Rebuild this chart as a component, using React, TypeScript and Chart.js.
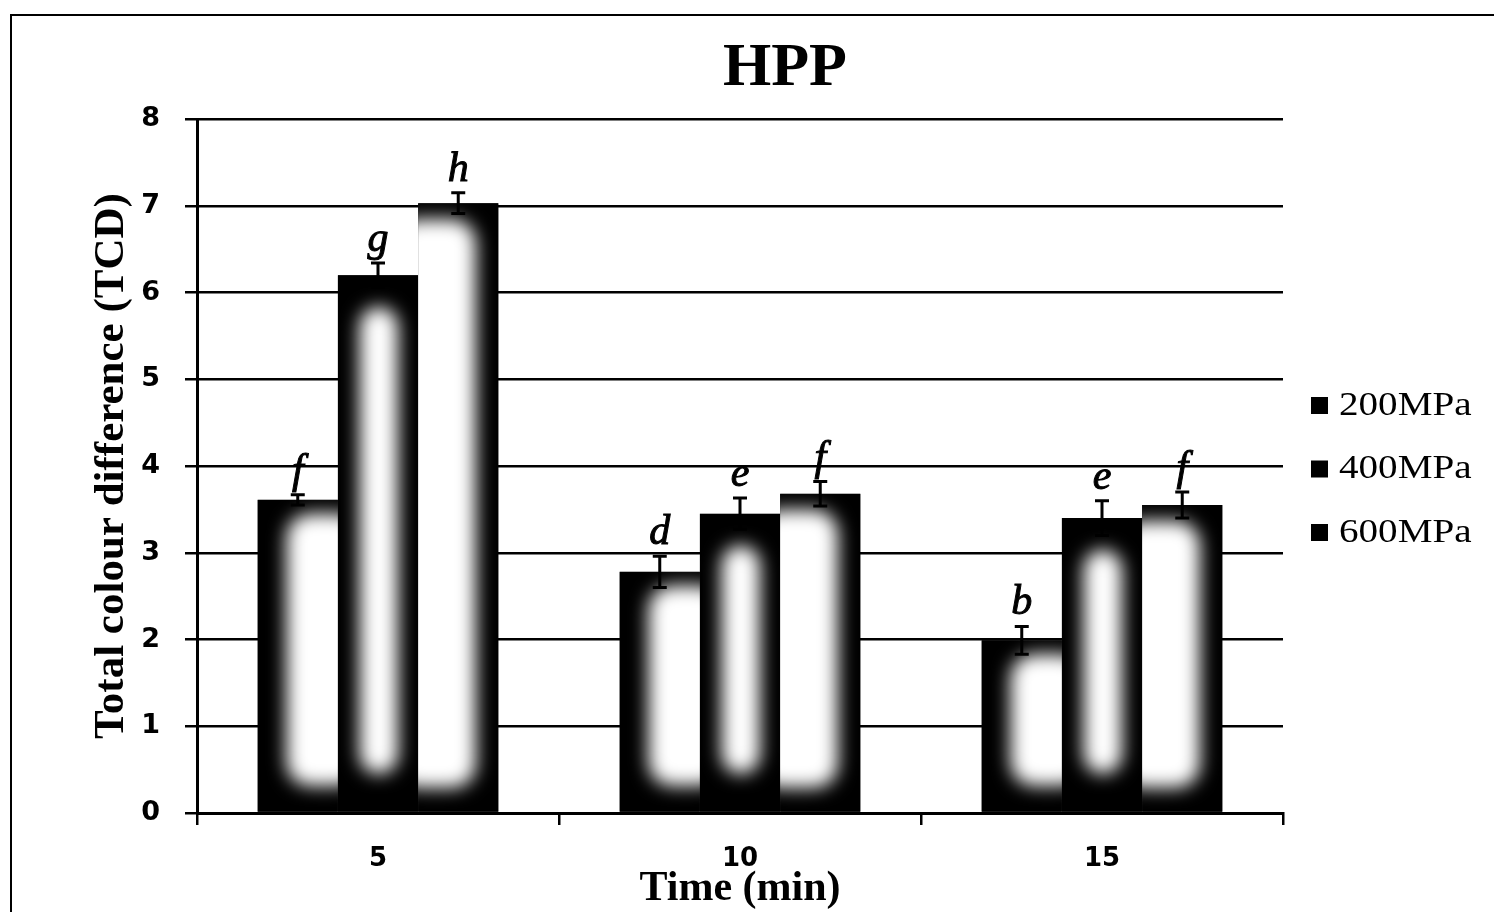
import React, { useEffect, useRef } from 'react';
import { Chart, registerables } from 'chart.js';

Chart.register(...registerables);

// ---------- data ----------
const categories = ['5', '10', '15'];
const seriesLabels = ['200MPa', '400MPa', '600MPa'];
const tcd200 = [3.61, 2.78, 1.99];
const tcd400 = [6.2, 3.45, 3.4];
const tcd600 = [7.03, 3.68, 3.55];
const err200 = [0.06, 0.18, 0.16];
const err400 = [0.14, 0.18, 0.2];
const err600 = [0.12, 0.14, 0.15];
const sig200 = ['f', 'd', 'b'];
const sig400 = ['g', 'e', 'e'];
const sig600 = ['h', 'f', 'f'];
const chartTitle = 'HPP';
const yTitle = 'Total colour difference (TCD)';
const xTitle = 'Time (min)';

const seriesValues = [tcd200, tcd400, tcd600];
const seriesErrors = [err200, err400, err600];
const seriesLetters = [sig200, sig400, sig600];

// styling: light core of each bar (fractions of width inset left/right, px inset top/bottom)
const shades = [
  { l: 0.36, r: -0.3, t: 14, b: 26 },
  { l: 0.27, r: 0.25, t: 32, b: 38 },
  { l: -0.3, r: 0.28, t: 16, b: 24 },
];

const decorPlugin = {
  id: 'decor',
  afterDatasetsDraw(chart: any) {
    const ctx: CanvasRenderingContext2D = chart.ctx;
    const yScale = chart.scales.y;
    chart.data.datasets.forEach((ds: any, di: number) => {
      const meta = chart.getDatasetMeta(di);
      const sh = shades[di];
      meta.data.forEach((el: any) => {
        const { x, y, width, base } = el.getProps(['x', 'y', 'width', 'base'], true);
        const left = x - width / 2;
        const h = base - y;
        ctx.save();
        ctx.beginPath();
        ctx.rect(left, y, width, h);
        ctx.clip();
        ctx.fillStyle = '#000';
        ctx.fillRect(left, y, width, h);
        ctx.filter = 'blur(9px)';
        ctx.fillStyle = '#fff';
        const cl = left + sh.l * width;
        const cr = left + width - sh.r * width;
        const ct = y + Math.min(sh.t, h * 0.2);
        const cb = base - Math.min(sh.b, h * 0.2);
        ctx.beginPath();
        const rr = Math.min((cr - cl) / 2, 24);
        (ctx as any).roundRect(cl, ct, cr - cl, Math.max(cb - ct, 1), rr);
        ctx.fill();
        ctx.restore();
      });
    });
    // error bars and letters
    chart.data.datasets.forEach((ds: any, di: number) => {
      const meta = chart.getDatasetMeta(di);
      meta.data.forEach((el: any, i: number) => {
        const v = seriesValues[di][i];
        const e = seriesErrors[di][i];
        const { x } = el.getProps(['x'], true);
        const yTop = yScale.getPixelForValue(v + e);
        const yBot = yScale.getPixelForValue(v - e);
        ctx.save();
        ctx.strokeStyle = '#000';
        ctx.lineWidth = 3;
        ctx.beginPath();
        ctx.moveTo(x, yTop);
        ctx.lineTo(x, yBot);
        ctx.moveTo(x - 7, yTop);
        ctx.lineTo(x + 7, yTop);
        ctx.moveTo(x - 7, yBot);
        ctx.lineTo(x + 7, yBot);
        ctx.stroke();
        ctx.fillStyle = '#000';
        ctx.font = 'italic 42px "Liberation Serif"';
        ctx.textAlign = 'center';
        ctx.textBaseline = 'alphabetic';
        ctx.lineWidth = 1;
        ctx.fillText(seriesLetters[di][i], x, yTop - 12);
        ctx.strokeText(seriesLetters[di][i], x, yTop - 12);
        ctx.restore();
      });
    });
  },
  afterDraw(chart: any) {
    const ctx: CanvasRenderingContext2D = chart.ctx;
    ctx.save();
    ctx.fillStyle = '#000';
    ctx.font = 'bold 62px "Liberation Serif"';
    ctx.textAlign = 'center';
    ctx.textBaseline = 'alphabetic';
    ctx.fillText(chartTitle, 785, 85);
    // legend
    chart.data.datasets.forEach((ds: any, di: number) => {
      const yc = 405 + di * 63.5;
      ctx.fillStyle = ds.backgroundColor;
      ctx.fillRect(1311, yc - 8, 17, 17);
      ctx.save();
      ctx.translate(1339, yc);
      ctx.scale(1.15, 1);
      ctx.fillStyle = '#000';
      ctx.font = '34px "Liberation Serif"';
      ctx.textAlign = 'left';
      ctx.textBaseline = 'middle';
      ctx.fillText(ds.label, 0, 1);
      ctx.restore();
    });
    ctx.restore();
  },
};

export default function App() {
  const canvasRef = useRef<HTMLCanvasElement | null>(null);

  useEffect(() => {
    if (!canvasRef.current) return;
    Chart.defaults.color = '#000';
    const chart = new Chart(canvasRef.current, {
      type: 'bar',
      data: {
        labels: categories,
        datasets: seriesLabels.map((label, di) => ({
          label,
          data: seriesValues[di],
          backgroundColor: '#000',
          borderWidth: 0,
          categoryPercentage: 0.665,
          barPercentage: 1,
        })),
      },
      options: {
        responsive: false,
        animation: false,
        layout: { padding: { left: 0, right: 211, top: 119, bottom: 0 } },
        plugins: {
          legend: { display: false },
          title: { display: false },
          tooltip: { enabled: false },
        },
        scales: {
          x: {
            z: 1,
            grid: {
              display: true,
              drawOnChartArea: false,
              color: '#000',
              lineWidth: 2.5,
              tickLength: 12,
            },
            border: { display: true, color: '#000', width: 3 },
            ticks: {
              color: '#000',
              padding: 19,
              font: { family: '"DejaVu Sans"', size: 26, weight: 'bold' },
            },
            title: {
              display: true,
              text: xTitle,
              color: '#000',
              font: { family: '"Liberation Serif"', size: 42, weight: 'bold', lineHeight: 1 },
              padding: { top: 0, bottom: 2 },
            },
            afterFit: (scale: any) => {
              scale.height = 99;
            },
          },
          y: {
            min: 0,
            max: 8,
            ticks: {
              stepSize: 1,
              color: '#000',
              padding: 25,
              font: { family: '"DejaVu Sans"', size: 27, weight: 'bold' },
            },
            grid: { color: '#000', lineWidth: 2.5, tickLength: 12 },
            border: { display: true, color: '#000', width: 3 },
            title: {
              display: true,
              text: yTitle,
              color: '#000',
              font: { family: '"Liberation Serif"', size: 43, weight: 'bold', lineHeight: 1.2 },
              padding: { top: 86, bottom: 0 },
            },
            afterFit: (scale: any) => {
              scale.width = 197;
            },
          },
        },
      } as any,
      plugins: [decorPlugin],
    });
    return () => chart.destroy();
  }, []);

  return (
    <div style={{ position: 'fixed', left: 0, top: 0, width: 1494, height: 912, background: '#fff', overflow: 'hidden' }}>
      <canvas ref={canvasRef} width={1494} height={912} style={{ position: 'absolute', left: 0, top: 0 }} />
      <div
        style={{
          position: 'absolute',
          left: 10,
          top: 14,
          width: 1500,
          height: 920,
          borderLeft: '2px solid #000',
          borderTop: '2px solid #000',
          pointerEvents: 'none',
        }}
      />
    </div>
  );
}
